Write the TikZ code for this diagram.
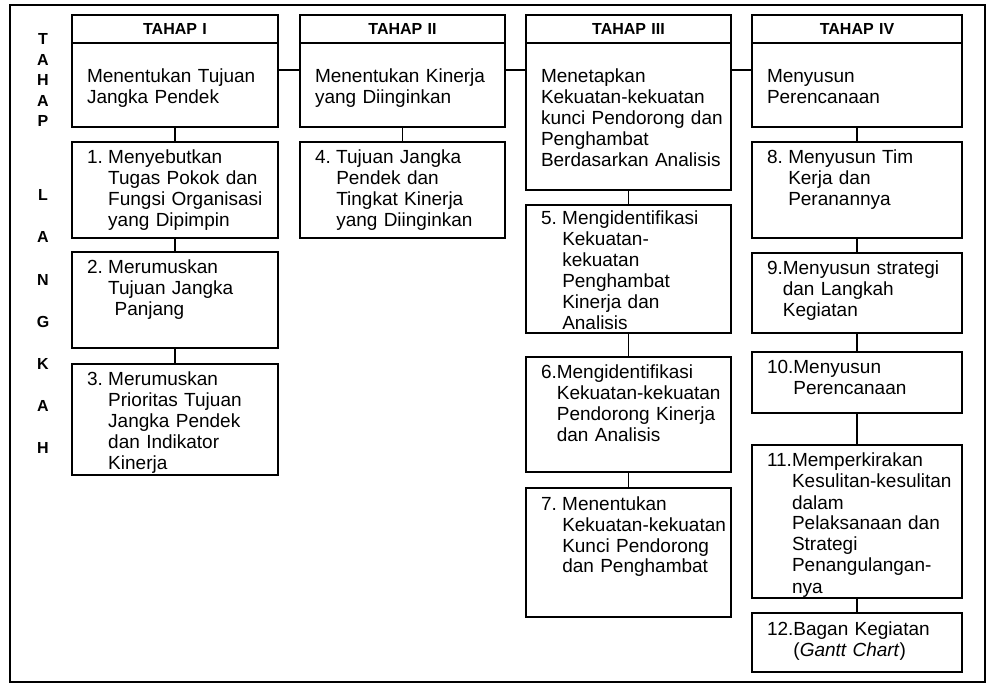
\documentclass[tikz,border=0pt]{standalone}
\usepackage{fontspec}
\setmainfont{Liberation Sans}
\usetikzlibrary{positioning}

\newcommand{\bodysize}{\fontsize{9.5}{10.5}\selectfont}
\newcommand{\numgap}{\kern2.7pt}
\newenvironment{steplines}{\begin{tabular}[t]{@{}l@{}l@{}}}{\end{tabular}}

\tikzset{
  tahap/.style={rectangle, draw=black, line width=1.2pt, outer sep=0pt,
    inner xsep=7.5pt, inner ysep=0pt, minimum height=14pt, align=center,
    font=\fontsize{8}{9}\selectfont\bfseries},
  stage/.style={rectangle, draw=black, line width=1.2pt, outer sep=0pt,
    inner xsep=7.5pt, inner ysep=0pt, align=left, text height=20pt, font=\bodysize},
  stepbox/.style={rectangle, draw=black, line width=1.2pt, outer sep=0pt,
    inner xsep=7.5pt, inner ysep=0pt, align=left, text height=11pt, font=\bodysize},
  sideletter/.style={inner sep=0pt, font=\fontsize{8}{9}\selectfont\bfseries},
  link/.style={line width=0.9pt, color=black},
  frame/.style={line width=1.2pt, color=black}
}

\begin{document}
\begin{tikzpicture}[x=0.5pt, y=-0.5pt, node distance=7.5pt]
  \useasboundingbox (0,0) rectangle (990,683);
  \draw[frame] (10,5) rectangle (985,682);

  % Side label
  \foreach \ch [count=\i] in {T,A,H,A,P}
    \node[sideletter] (tahap\i) at (43,{19+20.5*\i}) {\ch};
  \foreach \ch [count=\i] in {L,A,N,G,K,A,H}
    \node[sideletter] (langkah\i) at (43,{153+42.2*\i}) {\ch};

  % Tahap I
  \node[tahap, text width=88pt, anchor=north west] (h1) at (72,15) {TAHAP I};
  \node[stage, text width=88pt, text depth=22pt, below=0pt of h1] (m1)
    {\begin{steplines}Menentukan Tujuan\\Jangka Pendek\end{steplines}};
  \node[stepbox, text width=88pt, text depth=37pt, below=of m1] (s1)
    {\begin{steplines}1.\numgap & Menyebutkan\\ & Tugas Pokok dan\\ & Fungsi Organisasi\\ & yang Dipimpin\end{steplines}};
  \node[stepbox, text width=88pt, text depth=37pt, below=7pt of s1] (s2)
    {\begin{steplines}2.\numgap & Merumuskan\\ & Tujuan Jangka\\ & \ Panjang\end{steplines}};
  \node[stepbox, text width=88pt, text depth=44.5pt, below=8pt of s2] (s3)
    {\begin{steplines}3.\numgap & Merumuskan\\ & Prioritas Tujuan\\ & Jangka Pendek\\ & dan Indikator\\ & Kinerja\end{steplines}};

  % Tahap II
  \node[tahap, text width=87.5pt, anchor=north west] (h2) at (300,15) {TAHAP II};
  \node[stage, text width=87.5pt, text depth=22pt, below=0pt of h2] (m2)
    {\begin{steplines}Menentukan Kinerja\\yang Diinginkan\end{steplines}};
  \node[stepbox, text width=87.5pt, text depth=37pt, below=of m2] (s4)
    {\begin{steplines}4.\numgap & Tujuan Jangka\\ & Pendek dan\\ & Tingkat Kinerja\\ & yang Diinginkan\end{steplines}};

  % Tahap III
  \node[tahap, text width=87.5pt, anchor=north west] (h3) at (526,15) {TAHAP III};
  \node[stage, text width=87.5pt, text depth=53.5pt, below=0pt of h3] (m3)
    {\begin{steplines}Menetapkan\\Kekuatan-kekuatan\\kunci Pendorong dan\\Penghambat\\Berdasarkan Analisis\end{steplines}};
  \node[stepbox, text width=87.5pt, text height=10pt, text depth=54pt, below=of m3] (s5)
    {\begin{steplines}5.\numgap & Mengidentifikasi\\ & Kekuatan-\\ & kekuatan\\ & Penghambat\\ & Kinerja dan\\ & Analisis\end{steplines}};
  \node[stepbox, text width=87.5pt, text depth=46.5pt, below=12pt of s5] (s6)
    {\begin{steplines}6. & Mengidentifikasi\\ & Kekuatan-kekuatan\\ & Pendorong Kinerja\\ & dan Analisis\end{steplines}};
  \node[stepbox, text width=87.5pt, text depth=53.5pt, below=8pt of s6] (s7)
    {\begin{steplines}7.\numgap & Menentukan\\ & Kekuatan-kekuatan\\ & Kunci Pendorong\\ & dan Penghambat\end{steplines}};

  % Tahap IV
  \node[tahap, text width=90pt, anchor=north west] (h4) at (752,15) {TAHAP IV};
  \node[stage, text width=90pt, text depth=22pt, below=0pt of h4] (m4)
    {\begin{steplines}Menyusun\\Perencanaan\end{steplines}};
  \node[stepbox, text width=90pt, text depth=37pt, below=of m4] (s8)
    {\begin{steplines}8.\numgap & Menyusun Tim\\ & Kerja dan\\ & Peranannya\end{steplines}};
  \node[stepbox, text width=90pt, text depth=29pt, below=of s8] (s9)
    {\begin{steplines}9. & Menyusun strategi\\ & dan Langkah\\ & Kegiatan\end{steplines}};
  \node[stepbox, text width=90pt, text depth=19.5pt, below=9.5pt of s9] (s10)
    {\begin{steplines}10. & Menyusun\\ & Perencanaan\end{steplines}};
  \node[stepbox, text width=90pt, text depth=65.5pt, below=16pt of s10] (s11)
    {\begin{steplines}11. & Memperkirakan\\ & Kesulitan-kesulitan\\ & dalam\\ & Pelaksanaan dan\\ & Strategi\\ & Penangulangan-\\ & nya\end{steplines}};
  \node[stepbox, text width=90pt, text depth=18.5pt, below=of s11] (s12)
    {\begin{steplines}12. & Bagan Kegiatan\\ & (\textit{Gantt Chart})\end{steplines}};

  % Paths
  \draw[link] ([yshift=-13.5pt]m1.north east) -- ([yshift=-13.5pt]m2.north west);
  \draw[link] ([yshift=-13.5pt]m2.north east) -- ([yshift=-13.5pt]m3.north west);
  \draw[link] ([yshift=-13.5pt]m3.north east) -- ([yshift=-13.5pt]m4.north west);
  \draw[link] (m1) -- (s1);
  \draw[link] (s1) -- (s2);
  \draw[link] (s2) -- (s3);
  \draw[link] (m2) -- (s4);
  \draw[link] (m3) -- (s5);
  \draw[link] (s5) -- (s6);
  \draw[link] (s6) -- (s7);
  \draw[link] (m4) -- (s8);
  \draw[link] (s8) -- (s9);
  \draw[link] (s9) -- (s10);
  \draw[link] (s10) -- (s11);
  \draw[link] (s11) -- (s12);
\end{tikzpicture}
\end{document}
